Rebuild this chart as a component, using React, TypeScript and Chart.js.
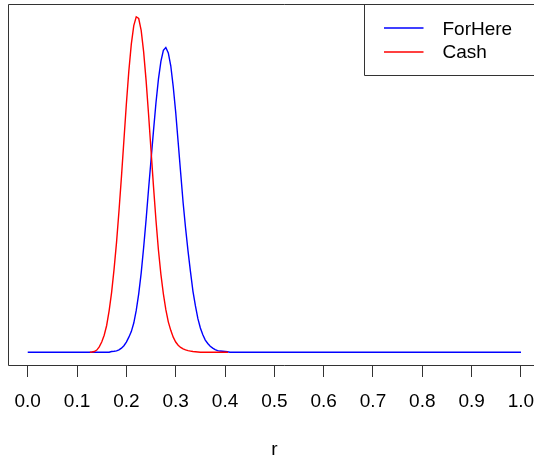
import React, { useEffect, useRef } from "react";
import { Chart, registerables } from "chart.js";

Chart.register(...registerables);

// ---- data ----
const tickValues = [0, 0.1, 0.2, 0.3, 0.4, 0.5, 0.6, 0.7, 0.8, 0.9, 1.0];
const axisTitle = "r";
const seriesNames = ["ForHere", "Cash"];
const seriesColors = ["#0000FF", "#FF0000"];

const forHereR = [
  0, 0.165, 0.17, 0.175, 0.18, 0.185, 0.19, 0.195, 0.2, 0.205, 0.21, 0.215, 0.22, 0.225,
  0.23, 0.235, 0.24, 0.245, 0.25, 0.255, 0.26, 0.265, 0.27, 0.275, 0.28, 0.285, 0.29,
  0.295, 0.3, 0.305, 0.31, 0.315, 0.32, 0.325, 0.33, 0.335, 0.34, 0.345, 0.35, 0.355,
  0.36, 0.365, 0.37, 0.375, 0.38, 0.385, 0.39, 0.395, 0.4, 0.405, 0.41, 1.0,
];
const forHereD = [
  0, 0, 0.03, 0.04, 0.06, 0.1, 0.17, 0.27, 0.42, 0.62, 0.85, 1.2, 1.72, 2.4,
  3.25, 4.3, 5.45, 6.7, 7.9, 9.1, 10.24, 11.21, 11.94, 12.39, 12.51, 12.29, 11.76,
  10.9, 9.85, 8.62, 7.38, 6.15, 5.1, 4.15, 3.3, 2.5, 1.9, 1.38, 1.0, 0.72,
  0.5, 0.36, 0.25, 0.17, 0.11, 0.07, 0.05, 0.04, 0.03, 0.02, 0, 0,
];

const cashR = [
  0.126, 0.13, 0.135, 0.14, 0.145, 0.15, 0.155, 0.16, 0.165, 0.17, 0.175, 0.18, 0.185,
  0.19, 0.195, 0.2, 0.205, 0.21, 0.215, 0.22, 0.225, 0.23, 0.235, 0.24, 0.245, 0.25,
  0.255, 0.26, 0.265, 0.27, 0.275, 0.28, 0.285, 0.29, 0.295, 0.3, 0.305, 0.31, 0.315,
  0.32, 0.325, 0.33, 0.335, 0.34, 0.345, 0.35, 0.406,
];
const cashD = [
  0, 0.01, 0.03, 0.09, 0.22, 0.42, 0.7, 1.1, 1.7, 2.45, 3.4, 4.5, 5.8,
  7.2, 8.7, 10.2, 11.55, 12.65, 13.41, 13.77, 13.7, 13.21, 12.33, 11.15, 9.76, 8.28,
  6.8, 5.42, 4.2, 3.2, 2.4, 1.75, 1.25, 0.9, 0.62, 0.42, 0.29, 0.2, 0.14,
  0.1, 0.07, 0.05, 0.03, 0.02, 0.01, 0, 0,
];

const FONT = "'Liberation Sans', Arial, sans-serif";
const FRAME = "#333333";

const framePlugin = {
  id: "rFrame",
  afterDraw(chart: any) {
    const { ctx, chartArea: a, width } = chart;
    ctx.save();
    ctx.strokeStyle = FRAME;
    ctx.lineWidth = 1;
    // plot box (its right side lies beyond the visible area, as in the reference)
    ctx.beginPath();
    ctx.moveTo(width + 5, a.top + 0.5);
    ctx.lineTo(a.left + 0.5, a.top + 0.5);
    ctx.lineTo(a.left + 0.5, a.bottom + 0.5);
    ctx.lineTo(width + 5, a.bottom + 0.5);
    ctx.stroke();
    // legend box (top-right, like R's legend("topright"))
    const lx = 364.5;
    const lb = 75.5;
    ctx.beginPath();
    ctx.moveTo(width + 5, lb);
    ctx.lineTo(lx, lb);
    ctx.lineTo(lx, a.top + 0.5);
    ctx.stroke();
    const ds = chart.data.datasets;
    const rowsY = [28, 52];
    const textY = [30, 52.5];
    ds.forEach((d: any, i: number) => {
      ctx.strokeStyle = d.borderColor;
      ctx.lineWidth = 1.5;
      ctx.beginPath();
      ctx.moveTo(384, rowsY[i]);
      ctx.lineTo(423.5, rowsY[i]);
      ctx.stroke();
      ctx.fillStyle = "#000";
      ctx.font = `19px ${FONT}`;
      ctx.textAlign = "left";
      ctx.textBaseline = "middle";
      ctx.fillText(d.label, 442.5, textY[i]);
    });
    ctx.restore();
  },
};

export default function App() {
  const ref = useRef<HTMLCanvasElement | null>(null);

  useEffect(() => {
    if (!ref.current) return;
    const chart = new Chart(ref.current, {
      type: "line",
      data: {
        datasets: [
          {
            label: seriesNames[0],
            data: forHereR.map((x, i) => ({ x, y: forHereD[i] })),
            borderColor: seriesColors[0],
            borderWidth: 1.4,
            pointRadius: 0,
            tension: 0,
            fill: false,
            order: 2,
          },
          {
            label: seriesNames[1],
            data: cashR.map((x, i) => ({ x, y: cashD[i] })),
            borderColor: seriesColors[1],
            borderWidth: 1.4,
            pointRadius: 0,
            tension: 0,
            fill: false,
            order: 1,
          },
        ],
      },
      options: {
        responsive: false,
        animation: false,
        devicePixelRatio: 1,
        layout: { padding: { left: 8, top: 4, right: 19.3, bottom: 8.6 } },
        plugins: { legend: { display: false }, tooltip: { enabled: false } },
        scales: {
          x: {
            type: "linear",
            min: -0.04,
            max: 1.04,
            afterBuildTicks: (scale: any) => {
              scale.ticks = tickValues.map((v) => ({ value: v }));
            },
            ticks: {
              autoSkip: false,
              maxRotation: 0,
              minRotation: 0,
              padding: 13.2,
              color: "#000",
              font: { family: FONT, size: 19 },
              callback: (v: any) => Number(v).toFixed(1),
            },
            grid: {
              display: true,
              drawOnChartArea: false,
              drawTicks: true,
              tickLength: 12,
              tickColor: FRAME,
              tickWidth: 1,
            },
            border: { display: false },
            title: {
              display: true,
              text: axisTitle,
              color: "#000",
              font: { family: FONT, size: 19 },
              padding: { top: 12.4, bottom: 0 },
            },
          },
          y: {
            display: false,
            min: -0.522,
            max: 14.295,
          },
        },
      },
      plugins: [framePlugin],
    });
    return () => chart.destroy();
  }, []);

  return (
    <div
      style={{
        position: "fixed",
        left: 0,
        top: 0,
        width: 534,
        height: 458,
        overflow: "hidden",
        background: "#fff",
      }}
    >
      <canvas ref={ref} width={560} height={470} style={{ width: 560, height: 470, display: "block" }} />
    </div>
  );
}
